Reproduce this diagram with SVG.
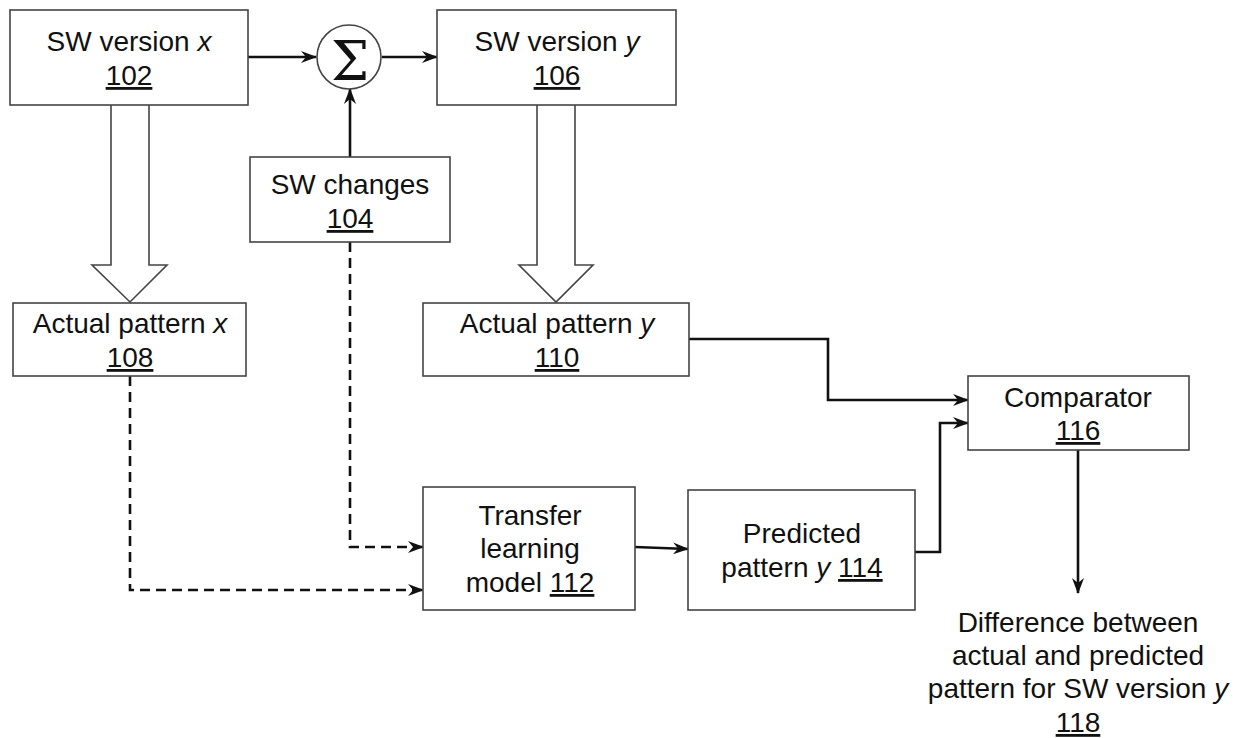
<svg xmlns="http://www.w3.org/2000/svg" width="1239" height="738" viewBox="0 0 1239 738">
  <style>
    .box { fill: #fff; stroke: #444; stroke-width: 1.6; }
    .t { font-family: "Liberation Sans", Arial, sans-serif; font-size: 28px; fill: #111; text-anchor: middle; }
    .u { text-decoration: underline; }
    .i { font-style: italic; }
    .wire { fill: none; stroke: #111; stroke-width: 2.6; }
    .dash { fill: none; stroke: #111; stroke-width: 2.6; stroke-dasharray: 10 6; }
    .fat { fill: #fff; stroke: #444; stroke-width: 1.6; stroke-linejoin: miter; }
  </style>
  <defs>
    <marker id="arr" viewBox="0 0 16 12" refX="15" refY="6" markerWidth="16" markerHeight="12" markerUnits="userSpaceOnUse" orient="auto">
      <path d="M0,0 L16,6 L0,12 L5,6 z" fill="#111"/>
    </marker>
  </defs>
  <rect width="1239" height="738" fill="#fff"/>

  <!-- hollow block arrows from versions to their measured patterns -->
  <g id="block-arrows">
    <path class="fat" d="M111,105 L111,265 L92,265 L130,302 L167,265 L149,265 L149,105"/>
    <path class="fat" d="M537,105 L537,265 L519,265 L556,302 L593,265 L575,265 L575,105"/>
  </g>

  <g id="connectors">
    <line class="wire" x1="248" y1="57" x2="316" y2="57" marker-end="url(#arr)"/>
    <line class="wire" x1="382" y1="57" x2="437" y2="57" marker-end="url(#arr)"/>
    <line class="wire" x1="350" y1="157" x2="350" y2="89" marker-end="url(#arr)"/>
    <polyline class="dash" points="350,242 350,547 423,547" marker-end="url(#arr)"/>
    <polyline class="dash" points="130,376 130,590 423,590" marker-end="url(#arr)"/>
    <line class="wire" x1="635" y1="547" x2="688" y2="549" marker-end="url(#arr)"/>
    <polyline class="wire" points="689,339 828,339 828,400 968,400" marker-end="url(#arr)"/>
    <polyline class="wire" points="915,552 940,552 940,423 968,423" marker-end="url(#arr)"/>
    <line class="wire" x1="1078" y1="450" x2="1078" y2="593" marker-end="url(#arr)"/>
  </g>

  <g id="sw-x">
    <rect class="box" x="10" y="10" width="238" height="95"/>
    <text class="t" x="129" y="51">SW version <tspan class="i">x</tspan></text>
    <text class="t u" x="129" y="85">102</text>
  </g>

  <g id="sum">
    <circle cx="349" cy="57" r="32" fill="#fff" stroke="#444" stroke-width="1.6"/>
    <text x="350" y="80" font-family="'DejaVu Serif', 'Liberation Serif', serif" font-size="54" text-anchor="middle" fill="#111">Σ</text>
  </g>

  <g id="sw-y">
    <rect class="box" x="437" y="10" width="239" height="95"/>
    <text class="t" x="557" y="51">SW version <tspan class="i">y</tspan></text>
    <text class="t u" x="557" y="85">106</text>
  </g>

  <g id="sw-changes">
    <rect class="box" x="250" y="157" width="200" height="85"/>
    <text class="t" x="350" y="194">SW changes</text>
    <text class="t u" x="350" y="228">104</text>
  </g>

  <g id="pattern-x">
    <rect class="box" x="13" y="303" width="233" height="73"/>
    <text class="t" x="130" y="333">Actual pattern <tspan class="i">x</tspan></text>
    <text class="t u" x="130" y="367">108</text>
  </g>

  <g id="pattern-y">
    <rect class="box" x="423" y="303" width="266" height="73"/>
    <text class="t" x="557" y="333">Actual pattern <tspan class="i">y</tspan></text>
    <text class="t u" x="557" y="367">110</text>
  </g>

  <g id="transfer-model">
    <rect class="box" x="423" y="487" width="212" height="123"/>
    <text class="t" x="530" y="525">Transfer</text>
    <text class="t" x="530" y="558">learning</text>
    <text class="t" x="530" y="592">model <tspan class="u">112</tspan></text>
  </g>

  <g id="predicted">
    <rect class="box" x="688" y="490" width="227" height="120"/>
    <text class="t" x="802" y="543">Predicted</text>
    <text class="t" x="802" y="577">pattern <tspan class="i">y</tspan> <tspan class="u">114</tspan></text>
  </g>

  <g id="comparator">
    <rect class="box" x="968" y="376" width="221" height="74"/>
    <text class="t" x="1078" y="407">Comparator</text>
    <text class="t u" x="1078" y="440">116</text>
  </g>

  <g id="difference">
    <text class="t" x="1078" y="632">Difference between</text>
    <text class="t" x="1078" y="665">actual and predicted</text>
    <text class="t" x="1078" y="698">pattern for SW version <tspan class="i">y</tspan></text>
    <text class="t u" x="1078" y="732">118</text>
  </g>
</svg>
